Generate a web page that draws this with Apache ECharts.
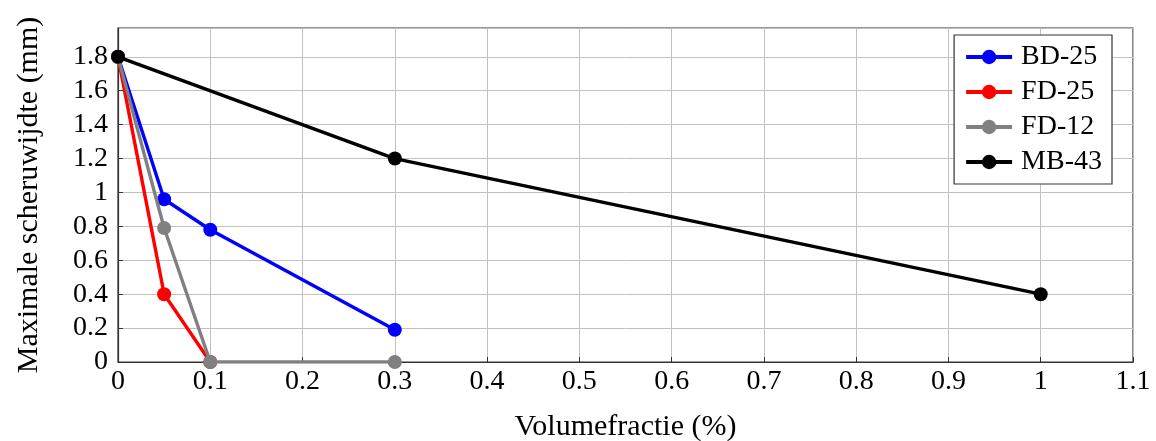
<!DOCTYPE html>
<html>
<head>
<meta charset="utf-8">
<script src="https://cdn.jsdelivr.net/npm/echarts@6/dist/echarts.min.js"></script>
<style>
  html, body { margin: 0; padding: 0; background: #fff; }
  #chart { width: 1156px; height: 441px; }
</style>
</head>
<body>
<div id="chart"></div>
<script>
// data
const seriesNames = ['BD-25', 'FD-25', 'FD-12', 'MB-43'];
const bdX = [0, 0.05, 0.1, 0.3];
const bdY = [1.8, 0.96, 0.78, 0.19];
const fd25X = [0, 0.05, 0.1];
const fd25Y = [1.8, 0.4, 0];
const fd12X = [0, 0.05, 0.1, 0.3];
const fd12Y = [1.8, 0.79, 0, 0];
const mbX = [0, 0.3, 1];
const mbY = [1.8, 1.2, 0.4];

const colors = ['#0000ff', '#ff0000', '#808080', '#000000'];
const font = '"Liberation Serif", "DejaVu Serif", serif';

const pairs = (xs, ys) => xs.map((x, i) => [x, ys[i]]);
const allData = [pairs(bdX, bdY), pairs(fd25X, fd25Y), pairs(fd12X, fd12Y), pairs(mbX, mbY)];

const chart = echarts.init(document.getElementById('chart'));

chart.setOption({
  animation: false,
  textStyle: { fontFamily: font },
  grid: {
    left: 118, right: 23, top: 28, bottom: 79,
    outerBoundsMode: 'none',
    containLabel: false,
    show: true, borderColor: '#333', borderWidth: 1.2
  },
  legend: {
    right: 44, top: 35,
    orient: 'vertical',
    itemWidth: 46, itemHeight: 18, itemGap: 7,
    padding: [8, 10, 8, 10],
    borderColor: '#333', borderWidth: 1.2,
    backgroundColor: '#fff',
    lineStyle: { width: 4 },
    textStyle: { fontFamily: font, fontSize: 28, color: '#000', padding: [0, 0, 0, 4] }
  },
  xAxis: {
    type: 'value',
    min: 0, max: 1.1, interval: 0.1,
    name: 'Volumefractie (%)',
    nameLocation: 'middle', nameGap: 50,
    nameTextStyle: { fontFamily: font, fontSize: 30, color: '#000' },
    axisLine: { show: true, onZero: false, lineStyle: { color: '#333', width: 1.2 } },
    axisTick: { show: true, inside: true, length: 5, lineStyle: { color: '#333' } },
    axisLabel: {
      fontFamily: font, fontSize: 28, color: '#000', margin: 6,
      formatter: v => String(+v.toFixed(1))
    },
    splitLine: { show: true, lineStyle: { color: '#c0c0c0', width: 1 } }
  },
  yAxis: {
    type: 'value',
    min: 0, max: 1.97, interval: 0.2,
    name: 'Maximale scheruwijdte (mm)',
    nameLocation: 'middle', nameGap: 74,
    nameTextStyle: { fontFamily: font, fontSize: 30, color: '#000' },
    axisLine: { show: true, lineStyle: { color: '#333', width: 1.2 } },
    axisTick: { show: true, inside: true, length: 5, lineStyle: { color: '#333' } },
    axisLabel: {
      fontFamily: font, fontSize: 28, color: '#000', margin: 10,
      showMaxLabel: false,
      formatter: v => String(+v.toFixed(1))
    },
    splitLine: { show: true, lineStyle: { color: '#c0c0c0', width: 1 } }
  },
  series: seriesNames.map((name, i) => ({
    name: name,
    type: 'line',
    data: allData[i],
    color: colors[i],
    symbol: 'circle',
    symbolSize: 14,
    lineStyle: { width: 3.4, color: colors[i] },
    itemStyle: { color: colors[i] },
    z: 2 + i
  }))
});
</script>
</body>
</html>
